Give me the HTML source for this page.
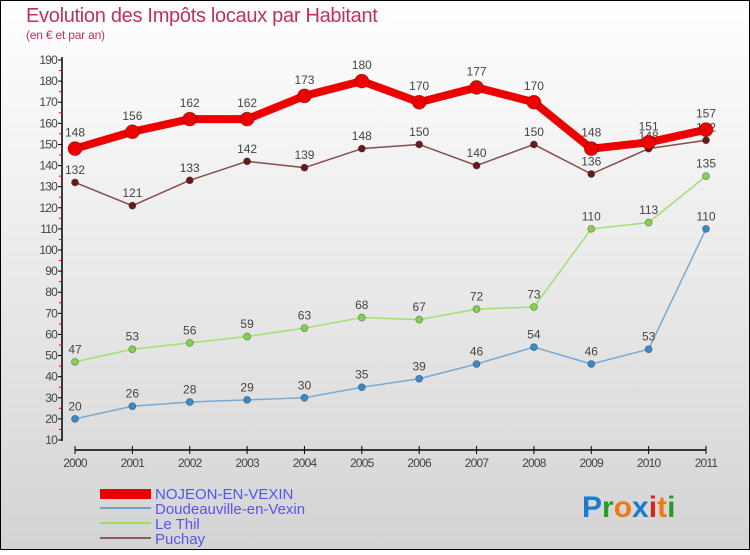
<!DOCTYPE html>
<html><head><meta charset="utf-8"><style>
body{margin:0;width:750px;height:550px;overflow:hidden;font-family:"Liberation Sans",sans-serif}
svg text{font-family:"Liberation Sans",sans-serif}
</style></head><body>
<svg id="chart" width="750" height="550" xmlns="http://www.w3.org/2000/svg">
<defs><linearGradient id="bg" x1="0" y1="0" x2="0" y2="1"><stop offset="0" stop-color="#ffffff"/><stop offset="1" stop-color="#d4d4d4"/></linearGradient></defs>
<rect x="0.5" y="0.5" width="749" height="549" fill="url(#bg)" stroke="#000"/>
<text x="26" y="22" font-size="20" fill="#c2305e" letter-spacing="-0.3">Evolution des Impôts locaux par Habitant</text>
<text x="26" y="39" font-size="12" fill="#c2305e" letter-spacing="-0.2">(en € et par an)</text>
<g id="axes"></g><g id="series"></g>
<g>
<rect x="100" y="489" width="51" height="10" fill="#e00"/>
<text x="155" y="499" font-size="15" fill="#5555ee">NOJEON-EN-VEXIN</text>
<rect x="100" y="507" width="51" height="2" fill="#6fa3cc"/>
<text x="155" y="514" font-size="15" fill="#5555ee">Doudeauville-en-Vexin</text>
<rect x="100" y="522" width="51" height="2" fill="#99dd66"/>
<text x="155" y="529" font-size="15" fill="#5555ee">Le Thil</text>
<rect x="100" y="537" width="51" height="2" fill="#8b5a5a"/>
<text x="155" y="544" font-size="15" fill="#5555ee">Puchay</text>
</g>
<g font-size="30" font-weight="bold">
<text x="582" y="517"><tspan fill="#1a7ad4">P</tspan><tspan fill="#2a9a2a">r</tspan><tspan fill="#f07a10">o</tspan><tspan fill="#1a7ad4">x</tspan><tspan fill="#e02020">i</tspan><tspan fill="#f07a10">t</tspan><tspan fill="#2a9a2a">i</tspan></text>
</g>
</svg>
<script>
const years=[2000,2001,2002,2003,2004,2005,2006,2007,2008,2009,2010,2011];
const nojeon=[148,156,162,162,173,180,170,177,170,148,151,157];
const doudeauville=[20,26,28,29,30,35,39,46,54,46,53,110];
const leThil=[47,53,56,59,63,68,67,72,73,110,113,135];
const puchay=[132,121,133,142,139,148,150,140,150,136,148,152];
const yTicks=[10,20,30,40,50,60,70,80,90,100,110,120,130,140,150,160,170,180,190];
const NS="http://www.w3.org/2000/svg";
const X=i=>75+i*(706-75)/11;
const Y=v=>440-(v-10)*380/180;
function mk(tag,attrs,parent){const e=document.createElementNS(NS,tag);for(const k in attrs)e.setAttribute(k,attrs[k]);parent.appendChild(e);return e;}
const ax=document.getElementById('axes');
let l=mk('line',{x1:62,y1:57,x2:62,y2:441,stroke:'#000','stroke-width':1.5},ax);


l=mk('line',{x1:75,y1:450,x2:706,y2:450,stroke:'#000','stroke-width':1.5},ax);


yTicks.forEach(v=>{
 mk('line',{x1:58,y1:Y(v),x2:62,y2:Y(v),stroke:'#000'},ax);
 if(v<190)mk('line',{x1:59,y1:Y(v+5),x2:62,y2:Y(v+5),stroke:'#e00'},ax);
 const t=mk('text',{x:57,y:Y(v)+4,'font-size':12,'text-anchor':'end',fill:'#444','letter-spacing':'-0.8'},ax);
 t.textContent=v;
 
 
});
years.forEach((yr,i)=>{
 mk('line',{x1:X(i),y1:446,x2:X(i),y2:454,stroke:'#000'},ax);
 const t=mk('text',{x:X(i),y:467,'font-size':12,'text-anchor':'middle',fill:'#444','letter-spacing':'-0.8'},ax);
 t.textContent=yr;
 
 
});
const sg=document.getElementById('series');
function draw(vals,name,color,w,r,dot){
 const g=mk('g',{},sg);
 
 
 mk('polyline',{points:vals.map((v,i)=>X(i)+','+Y(v)).join(' '),fill:'none',stroke:color,'stroke-width':w,'stroke-linejoin':'round'},g);
 vals.forEach((v,i)=>{
  const c=mk('circle',{cx:X(i),cy:Y(v),r:r,fill:dot,stroke:'rgba(0,0,0,0.35)','stroke-width':0.8},g);
  
  
  const t=mk('text',{x:X(i),y:Y(v)-r-5,'font-size':12,'text-anchor':'middle',fill:'#444'},g);
  t.textContent=v;
  
  
 });
}
draw(doudeauville,'doudeauville','#7aaad0',1.5,3.5,'#3a8ac8');
draw(leThil,'le-thil','#a0e070',1.5,3.5,'#88d050');
draw(puchay,'puchay','#8b4a4a',1.5,3.5,'#6a1a1a');
draw(nojeon,'nojeon','#ee0000',8,7,'#ee0000');
</script>
</body></html>
